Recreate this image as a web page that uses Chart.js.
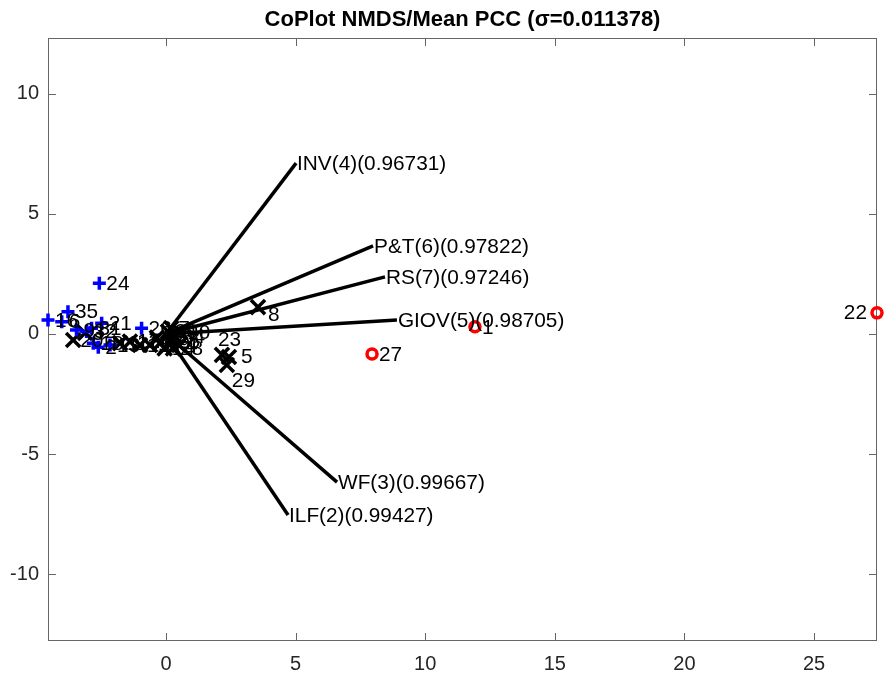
<!DOCTYPE html>
<html>
<head>
<meta charset="utf-8">
<script src="https://cdn.jsdelivr.net/npm/chart.js@4.4.0/dist/chart.umd.min.js"></script>
<style>
  html, body { margin: 0; padding: 0; background: #fff; }
  #wrap { width: 888px; height: 674px; }
</style>
</head>
<body>
<div id="wrap"><canvas id="chart" width="888" height="674"></canvas></div>
<script>
const TITLE = 'CoPlot NMDS/Mean PCC (σ=0.011378)';

// axis ranges and ticks
const xRange = [-4.55, 27.43];
const yRange = [-12.79, 12.33];
const xTicks = [0, 5, 10, 15, 20, 25];
const yTicks = [-10, -5, 0, 5, 10];

// red circles
const redIds = ['1', '22', '27'];
const redX = [11.92, 27.43, 7.95];
const redY = [0.3, 0.88, -0.83];

// blue plus
const blueIds = ['24', '35', '16', '6', '9', '31', '21', '2', '18', '13', '26', '32'];
const blueX = [-2.57, -3.78, -4.55, -4.02, -3.45, -2.87, -2.48, -2.61, -2.8, -2.16, -0.94, -3.06];
const blueY = [2.11, 0.93, 0.58, 0.51, 0.17, 0.24, 0.45, -0.55, -0.39, -0.46, 0.24, 0.1];

// black crosses
const blackIds = ['20', '3', '11', '12', '15', '17', '19', '25', '28', '30', '10', '4', '33', '34', '7', '14', '8', '23', '5', '29'];
const blackX = [-3.58, -3.12, -1.77, -1.39, -1.0, -0.62, -0.23, 0.15, 0.27, 0.08, 0.55, 0.5, -0.35, 0.35, 0.2, -0.05, 3.55, 2.16, 2.43, 2.35];
const blackY = [-0.25, 0.04, -0.38, -0.32, -0.46, -0.46, -0.38, -0.32, -0.6, 0.1, 0.08, -0.46, -0.15, -0.1, 0.25, -0.6, 1.12, -0.87, -0.96, -1.29];

// variable vectors (from origin)
const vecNames = ['INV(4)(0.96731)', 'P&T(6)(0.97822)', 'RS(7)(0.97246)', 'GIOV(5)(0.98705)', 'WF(3)(0.99667)', 'ILF(2)(0.99427)'];
const vecX = [5.02, 7.99, 8.45, 8.91, 6.6, 4.71];
const vecY = [7.12, 3.67, 2.38, 0.58, -6.17, -7.54];

// label nudges in px: [dx, dy, align]
const labelShift = {
  '22': [-10, 0, 'right'],
  '23': [-4, -15, 'left'],
  '29': [5, 16, 'left'],
  '8': [10, 8, 'left'],
  '5': [12, 0, 'left']
};

const FONT = '"Liberation Sans", Arial, Helvetica, sans-serif';
const AXIS_COLOR = '#666666';

const pts = (xs, ys) => xs.map((x, i) => ({ x, y: ys[i] }));

const datasets = [
  {
    data: pts(redX, redY), ids: redIds, pointStyle: 'circle', pointRadius: 5,
    pointBorderColor: '#ff0000', pointBackgroundColor: 'rgba(0,0,0,0)', pointBorderWidth: 3.5, showLine: false, clip: false
  },
  {
    data: pts(blueX, blueY), ids: blueIds, pointStyle: 'cross', pointRadius: 6.5,
    pointBorderColor: '#0000ff', pointBackgroundColor: '#0000ff', pointBorderWidth: 3.5, showLine: false, clip: false
  },
  {
    data: pts(blackX, blackY), ids: blackIds, pointStyle: 'crossRot', pointRadius: 10,
    pointBorderColor: '#000000', pointBackgroundColor: '#000000', pointBorderWidth: 3.5, showLine: false, clip: false
  }
];

vecNames.forEach((name, i) => {
  datasets.push({
    data: [{ x: 0, y: 0 }, { x: vecX[i], y: vecY[i] }],
    vecName: name, showLine: true, pointRadius: 0, borderColor: '#000', borderWidth: 3.5, clip: false
  });
});

const frame = {
  id: 'frame',
  beforeDatasetsDraw(chart) {
    const { ctx, chartArea: a, scales } = chart;
    ctx.save();
    ctx.strokeStyle = AXIS_COLOR;
    ctx.lineWidth = 1;
    ctx.strokeRect(a.left + 0.5, a.top + 0.5, a.right - a.left - 1, a.bottom - a.top - 1);
    ctx.beginPath();
    xTicks.forEach((v) => {
      const px = Math.round(scales.x.getPixelForValue(v)) + 0.5;
      ctx.moveTo(px, a.bottom); ctx.lineTo(px, a.bottom - 8);
      ctx.moveTo(px, a.top); ctx.lineTo(px, a.top + 8);
    });
    yTicks.forEach((v) => {
      const py = Math.round(scales.y.getPixelForValue(v)) + 0.5;
      ctx.moveTo(a.left, py); ctx.lineTo(a.left + 8, py);
      ctx.moveTo(a.right, py); ctx.lineTo(a.right - 8, py);
    });
    ctx.stroke();
    ctx.restore();
  },
  afterDatasetsDraw(chart) {
    const { ctx, chartArea: a } = chart;
    ctx.save();
    ctx.fillStyle = '#000';
    ctx.textBaseline = 'middle';
    ctx.font = `20.8px ${FONT}`;
    chart.data.datasets.forEach((ds, i) => {
      const meta = chart.getDatasetMeta(i);
      if (ds.ids) {
        meta.data.forEach((el, j) => {
          const id = ds.ids[j];
          const [dx, dy, align] = labelShift[id] || [7, 1, 'left'];
          ctx.textAlign = align;
          ctx.fillText(id, el.x + dx, el.y + dy);
        });
      } else if (ds.vecName) {
        const end = meta.data[1];
        ctx.textAlign = 'left';
        ctx.fillText(ds.vecName, end.x + 1, end.y + 1);
      }
    });
    ctx.font = `bold 22px ${FONT}`;
    ctx.textAlign = 'center';
    ctx.fillText(TITLE, (a.left + a.right) / 2, 20);
    ctx.restore();
  }
};

new Chart(document.getElementById('chart'), {
  type: 'scatter',
  data: { datasets },
  options: {
    responsive: false,
    animation: false,
    layout: { autoPadding: false, padding: { top: 38, right: 11, left: 0, bottom: 0 } },
    plugins: { legend: { display: false }, tooltip: { enabled: false }, title: { display: false } },
    scales: {
      x: {
        type: 'linear', min: xRange[0], max: xRange[1],
        afterBuildTicks: (s) => { s.ticks = xTicks.map((v) => ({ value: v })); },
        afterFit: (s) => { s.height = 33; },
        grid: { display: false, drawTicks: false },
        border: { display: false },
        ticks: { padding: 11, color: '#262626', font: { family: FONT, size: 20 } }
      },
      y: {
        type: 'linear', min: yRange[0], max: yRange[1],
        afterBuildTicks: (s) => { s.ticks = yTicks.map((v) => ({ value: v })); },
        afterFit: (s) => { s.width = 48; },
        grid: { display: false, drawTicks: false },
        border: { display: false },
        ticks: { padding: 9, color: '#262626', font: { family: FONT, size: 20 } }
      }
    }
  },
  plugins: [frame]
});
</script>
</body>
</html>
